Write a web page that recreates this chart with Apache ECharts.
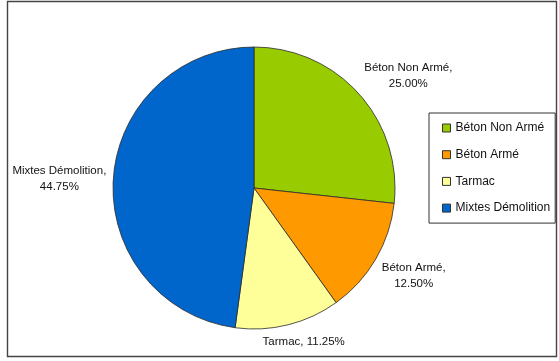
<!DOCTYPE html>
<html>
<head>
<meta charset="utf-8">
<script src="https://cdn.jsdelivr.net/npm/echarts@6/dist/echarts.min.js"></script>
<style>
html,body{margin:0;padding:0;background:#fff;}
#chart{width:559px;height:361px;}
</style>
</head>
<body>
<div id="chart"></div>
<script>
const categories = ['Béton Non Armé', 'Béton Armé', 'Tarmac', 'Mixtes Démolition'];
const values = [25.00, 12.50, 11.25, 44.75];
const labelSeparators = [',\n', ',\n', ', ', ',\n'];
const colors = ['#99CC00', '#FF9900', '#FFFF99', '#0066CC'];

const CX = 254, CY = 188, R = 141, GAP = 148;
const total = values.reduce((a, b) => a + b, 0);
const clamp = v => Math.max(-1, Math.min(1, v));

const chart = echarts.init(document.getElementById('chart'), null, {renderer: 'canvas'});
chart.setOption({
  animation: false,
  backgroundColor: '#ffffff',
  color: colors,
  graphic: [{
    type: 'rect',
    shape: {x: 7.5, y: 1.5, width: 549, height: 355},
    style: {fill: 'none', stroke: '#444', lineWidth: 1.4},
    silent: true
  }],
  legend: {
    orient: 'vertical',
    left: 429,
    top: 113,
    padding: [9, 5, 9, 13],
    itemGap: 14.7,
    itemWidth: 8,
    itemHeight: 8,
    icon: 'rect',
    borderColor: '#333',
    borderWidth: 1,
    itemStyle: {borderColor: '#333', borderWidth: 1},
    textStyle: {fontFamily: 'Liberation Sans, Arial, sans-serif', fontSize: 12, color: '#111'},
    data: categories
  },
  series: [{
    type: 'pie',
    center: [CX, CY],
    radius: R,
    startAngle: 90,
    clockwise: true,
    avoidLabelOverlap: false,
    itemStyle: {borderColor: '#2a2a2a', borderWidth: 0.8},
    emphasis: {disabled: true},
    label: {
      show: true,
      position: 'outside',
      fontFamily: 'Liberation Sans, Arial, sans-serif',
      fontSize: 11.5,
      lineHeight: 16,
      color: '#111',
      formatter: p => p.name + labelSeparators[p.dataIndex] + p.value.toFixed(2) + '%'
    },
    labelLine: {show: false},
    labelLayout: function (p) {
      const i = p.dataIndex;
      let cum = 0;
      for (let k = 0; k < i; k++) cum += values[k];
      const a = (cum + values[i] / 2) / total * 2 * Math.PI;
      const sx = Math.sin(a), sy = -Math.cos(a);
      const w = p.labelRect.width, h = p.labelRect.height;
      const x = CX + GAP * sx + (w / 2) * clamp(Math.SQRT2 * sx);
      const y = CY + 2 + GAP * sy + (h / 2) * clamp(Math.SQRT2 * sy);
      return {x: x, y: y, align: 'center', verticalAlign: 'middle'};
    },
    data: categories.map((c, i) => ({name: c, value: values[i]}))
  }]
});
</script>
</body>
</html>
